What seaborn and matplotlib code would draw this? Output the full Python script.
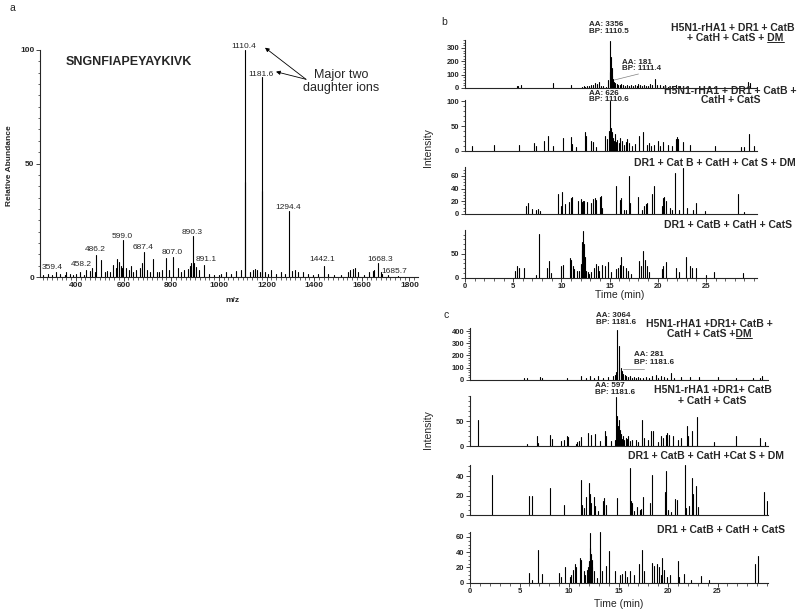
import numpy as np
import pandas as pd
import seaborn as sns
import matplotlib.pyplot as plt
from matplotlib.ticker import MultipleLocator, FixedLocator
from matplotlib.lines import Line2D

W, H = 800, 614

# ---- panel a: MS/MS spectrum of SNGNFIAPEYAYKIVK ----
ms_mz = [262, 282, 300, 317, 334, 352, 359.4, 373, 387, 401, 418, 432, 443, 458.2, 468, 478,
         486.2, 506, 520, 531, 541, 555, 566, 573, 580, 587, 594, 599.0, 611, 622, 633, 641,
         653, 667, 678, 687.4, 700, 711, 725, 739, 750, 762, 778, 792, 807.0, 827, 841, 855,
         869, 879, 884, 890.3, 891.1, 896, 904, 915, 939, 960, 981, 1002, 1010, 1031, 1052,
         1073, 1091, 1110.4, 1111.5, 1129, 1143, 1153, 1161, 1171, 1181.6, 1182.7, 1192,
         1206, 1220, 1241, 1262, 1276, 1294.4, 1306, 1318, 1332, 1353, 1374, 1395, 1416,
         1442.1, 1457, 1485, 1513, 1541, 1552, 1562, 1572, 1583, 1611, 1632, 1646, 1653,
         1668.3, 1681, 1685.7, 1709, 1751]
ms_ab = [1, 1.5, 1, 2, 1.5, 1, 2, 1.5, 1, 1.5, 2, 1, 3, 2.5, 3.8, 2,
         9.5, 7.5, 2, 2.5, 2, 5.5, 4, 7.8, 6.5, 5, 4, 16.5, 4, 3, 5, 2,
         3, 4, 6, 11, 3, 2, 8, 2, 2, 3, 8.3, 3, 8.7, 4, 2, 3,
         3.5, 5, 6, 18, 5, 6, 4.5, 3, 5.5, 1.5, 1, 1, 1.5, 2, 1.5,
         2.5, 3, 100, 42, 2, 3, 3.5, 3, 2, 88, 38, 2,
         1.5, 3, 1.5, 2, 1.5, 29, 2.5, 3, 2, 2, 1.5, 1, 1.5,
         5, 1.5, 1, 1, 2, 3, 3.5, 4, 2, 1, 2, 2.5, 3,
         6, 2, 1.5, 1, 0.5]
ms_labels = ["359.4", "458.2", "486.2", "599.0", "687.4", "807.0", "890.3", "891.1",
             "1110.4", "1181.6", "1294.4", "1442.1", "1668.3", "1685.7"]
ms_label_xy = [(301, 4.4), (424, 5.3), (483, 11.9), (593, 17.7), (683, 12.8), (805, 10.6),
               (886, 19.8), (946, 7.9), (1106, 101.5), (1176, 89), (1292, 30.4),
               (1433, 7.5), (1677, 7.9), (1737, 2.3)]

# ---- panel b: chromatograms, 1110 ion (time min, intensity) ----
b1_t = [5.37, 5.5, 5.8, 9.16, 10.99, 12.1, 12.3, 12.5, 12.7, 12.9, 13.1, 13.3, 13.5, 13.7, 13.9,
        14.1, 14.3, 14.6, 14.85, 15.0, 15.08, 15.15, 15.22, 15.3, 15.4, 15.5, 15.6, 15.75, 15.9,
        16.05, 16.2, 16.4, 16.6, 16.8, 17.0, 17.2, 17.4, 17.6, 17.8, 18.0, 18.2, 18.4, 18.6,
        18.8, 19.0, 19.2, 19.4, 19.7, 19.9, 20.2, 20.5, 20.8, 21.1, 21.5, 21.9, 22.3, 23.1,
        29.4, 29.6]
b1_i = [18, 14, 22, 38, 25, 10, 18, 8, 15, 12, 25, 20, 38, 30, 45,
        18, 12, 8, 60, 120, 350, 230, 150, 90, 70, 45, 35, 30, 25,
        20, 28, 22, 18, 25, 15, 20, 12, 25, 18, 30, 22, 15, 25,
        12, 18, 30, 20, 70, 25, 20, 15, 22, 10, 18, 25, 12, 10,
        45, 35]
b2_t = [0.72, 3.03, 5.6, 7.16, 7.37, 8.23, 8.64, 9.09, 10.12, 11.05, 11.15, 11.5, 12.43, 12.6,
        13.12, 13.3, 13.6, 14.5, 14.75, 14.9, 15.01, 15.1, 15.18, 15.27, 15.35, 15.45, 15.6,
        15.7, 15.8, 15.95, 16.1, 16.3, 16.5, 16.7, 16.85, 17.0, 17.3, 17.6, 18.1, 18.46, 18.9,
        19.1, 19.3, 19.6, 20.0, 20.2, 20.55, 21.1, 21.5, 21.85, 22.0, 22.15, 22.6, 23.3, 25.9,
        28.6, 28.9, 29.5, 30.0]
b2_i = [10, 12, 11, 15, 10, 20, 30, 10, 26, 27, 13, 7, 37, 30,
        20, 17, 7, 30, 24, 40, 100, 47, 30, 37, 25, 20, 34,
        18, 22, 15, 25, 20, 12, 18, 24, 15, 10, 14, 30, 37, 12,
        15, 10, 12, 20, 10, 17, 12, 10, 24, 27, 24, 17, 12, 10,
        7, 8, 34, 10]
b3_t = [6.3, 6.51, 7.0, 7.37, 7.6, 7.75, 9.68, 9.95, 10.1, 10.4, 10.8, 11.0, 11.1, 11.7, 12.0,
        12.15, 12.25, 12.4, 12.7, 13.1, 13.3, 13.45, 13.6, 14.0, 14.1, 14.25, 15.63, 16.05, 16.2,
        16.5, 16.7, 17.05, 17.15, 17.9, 18.4, 18.6, 18.8, 18.9, 19.4, 19.6, 20.4, 20.5, 20.7,
        20.9, 21.3, 21.45, 21.8, 22.2, 22.65, 23.0, 23.7, 24.0, 24.9, 28.3, 28.9]
b3_i = [12, 18, 8, 6, 8, 5, 31, 12, 35, 15, 19, 25, 27, 20, 24,
        19, 20, 21, 19, 17, 24, 25, 22, 26, 29, 10, 44, 22, 25,
        7, 7, 60, 17, 26, 7, 12, 15, 17, 32, 44, 12, 25, 27,
        20, 10, 7, 65, 6, 73, 10, 6, 17, 5, 31, 3]
b4_t = [5.2, 5.37, 5.58, 6.16, 7.37, 7.68, 8.54, 8.68, 8.9, 10.0, 10.2, 10.9, 11.05, 11.2, 11.35,
        11.6, 11.85, 12.0, 12.1, 12.18, 12.26, 12.34, 12.42, 12.6, 12.75, 12.9, 13.1, 13.4, 13.6,
        13.75, 13.9, 14.2, 14.5, 14.85, 15.2, 15.7, 15.85, 16.05, 16.2, 16.4, 16.7, 16.9, 17.25,
        18.1, 18.25, 18.5, 18.7, 18.85, 19.1, 20.4, 20.5, 20.9, 21.9, 22.2, 22.9, 23.3, 23.6,
        24.0, 25.0, 25.8, 28.8]
b4_i = [14, 25, 20, 21, 6, 91, 21, 34, 10, 25, 27, 41, 36, 25, 18,
        14, 15, 29, 57, 75, 97, 71, 43, 14, 11, 8, 12, 21, 29,
        25, 14, 27, 25, 32, 11, 18, 21, 27, 43, 25, 21, 14, 8,
        34, 25, 56, 36, 25, 11, 18, 25, 32, 21, 11, 43, 25, 21,
        20, 6, 11, 9]

# ---- panel c: chromatograms, 1181 ion ----
c1_t = [5.48, 5.75, 7.1, 7.3, 9.8, 11.2, 11.7, 12.1, 12.5, 12.9, 13.4, 13.9, 14.4, 14.6, 14.75,
        14.89, 15.0, 15.1, 15.22, 15.35, 15.5, 15.65, 15.8, 16.0, 16.2, 16.4, 16.6, 16.8, 17.0,
        17.2, 17.5, 17.8, 18.1, 18.4, 18.75, 19.0, 19.3, 19.6, 19.9, 20.3, 20.6, 21.3, 22.2,
        23.1, 25.1, 26.9, 28.6, 29.3, 29.5]
c1_i = [14, 16, 22, 12, 10, 33, 14, 33, 15, 33, 12, 22, 28, 40, 60,
        405, 276, 165, 97, 70, 45, 35, 28, 22, 30, 18, 25, 15, 22,
        12, 18, 20, 15, 28, 41, 15, 33, 25, 15, 55, 18, 22, 22,
        20, 22, 15, 16, 12, 28]
c2_t = [0.84, 5.8, 6.76, 6.9, 8.1, 8.25, 9.2, 9.5, 9.78, 9.9, 10.7, 10.85, 11.0, 11.26, 11.9,
        12.2, 12.6, 13.1, 13.6, 13.75, 14.2, 14.6, 14.79, 14.88, 14.98, 15.08, 15.18, 15.3, 15.4,
        15.5, 15.6, 15.75, 15.9, 16.0, 16.2, 16.4, 16.75, 17.0, 17.4, 17.55, 18.0, 18.3, 18.45,
        19.0, 19.3, 19.5, 19.75, 19.9, 20.1, 20.5, 21.0, 21.3, 21.9, 22.05, 22.4, 22.9, 24.6,
        26.9, 29.3, 29.8]
c2_i = [52, 5, 20, 7, 23, 15, 10, 12, 20, 18, 5, 8, 10, 19, 27,
        23, 25, 10, 30, 20, 10, 13, 99, 60, 40, 53, 33, 24, 15,
        20, 12, 17, 14, 20, 10, 13, 13, 8, 53, 17, 12, 30, 30,
        8, 20, 17, 23, 27, 23, 20, 12, 17, 40, 20, 30, 59, 8,
        20, 17, 8]
c3_t = [2.22, 6.0, 6.25, 8.1, 9.5, 11.19, 11.35, 11.5, 11.7, 11.99, 12.1, 12.25, 12.5, 12.65,
        12.9, 13.4, 13.5, 13.75, 14.8, 16.13, 16.28, 16.38, 16.6, 16.9, 17.15, 17.3, 17.5, 18.2,
        18.38, 19.65, 19.8, 19.95, 20.3, 20.7, 20.9, 21.67, 21.85, 22.1, 22.4, 22.55, 22.85,
        23.0, 29.7, 30.0]
c3_i = [41, 20, 20, 28, 10, 36, 10, 7, 19, 33, 22, 12, 19, 9,
        4, 14, 17, 10, 17, 48, 14, 12, 4, 8, 5, 6, 19, 12,
        41, 24, 45, 5, 3, 16, 15, 51, 7, 9, 38, 22, 30,
        8, 24, 14]
c4_t = [6.0, 6.25, 6.86, 7.3, 9.0, 9.15, 9.6, 10.1, 10.25, 10.45, 10.6, 10.75, 11.1, 11.25, 11.5,
        11.65, 11.8, 11.9, 11.99, 12.05, 12.1, 12.15, 12.2, 12.28, 12.35, 12.5, 12.8, 13.14, 13.3,
        13.7, 14.0, 14.6, 15.2, 15.4, 15.7, 15.9, 16.2, 16.55, 17.05, 17.4, 17.6, 18.4, 18.55,
        18.85, 19.05, 19.25, 19.4, 19.55, 19.9, 20.2, 21.0, 21.15, 21.65, 22.3, 23.35, 24.1,
        28.8, 29.1]
c4_i = [13, 3, 43, 12, 13, 8, 20, 8, 10, 17, 24, 20, 33, 30, 15,
        10, 17, 20, 24, 28, 65, 45, 37, 30, 20, 15, 6, 66, 15,
        22, 41, 15, 10, 12, 16, 8, 15, 10, 24, 43, 15, 26, 22,
        25, 20, 10, 33, 17, 8, 10, 28, 8, 11, 4, 9, 4,
        24, 35]

plt.rcParams["figure.dpi"] = 100
sns.set_style("ticks")
plt.rcParams["font.family"] = ["Liberation Sans", "DejaVu Sans"]

fig = plt.figure(figsize=(W / 100, H / 100), dpi=100)


def rect(left, right, top, bottom):
    return [left / W, 1 - bottom / H, (right - left) / W, (bottom - top) / H]


def ftext(px, py, s, **kw):
    kw.setdefault("va", "center")
    return fig.text(px / W, 1 - py / H, s, **kw)


def sticks(ax, xs, hs, lw=0.8):
    n = len(xs)
    df = pd.DataFrame({
        "x": np.repeat(xs, 2),
        "y": np.column_stack([np.zeros(n), hs]).ravel(),
        "pk": np.repeat(np.arange(n), 2),
    })
    sns.lineplot(data=df, x="x", y="y", units="pk", estimator=None, sort=False,
                 color="black", lw=lw, ax=ax, legend=False)
    ax.set_xlabel("")
    ax.set_ylabel("")


def style(ax, xlim, ylim, yticks, yminor, bottom_ticks, xsize=5.5, ysize=5.5):
    sns.despine(ax=ax)
    for s in ("left", "bottom"):
        ax.spines[s].set_linewidth(0.8)
    ax.set_xlim(xlim)
    ax.set_ylim(ylim)
    ax.yaxis.set_major_locator(FixedLocator(yticks))
    ax.yaxis.set_minor_locator(MultipleLocator(yminor))
    ax.tick_params(axis="y", which="major", length=3, width=0.6, labelsize=ysize, pad=1)
    ax.tick_params(axis="y", which="minor", length=1.8, width=0.5)
    if not bottom_ticks:
        ax.tick_params(axis="x", which="both", bottom=False, labelbottom=False)
    else:
        ax.tick_params(axis="x", which="major", length=3, width=0.6, labelsize=xsize, pad=0.5)
        ax.tick_params(axis="x", which="minor", length=1.8, width=0.5)
    plt.setp(ax.get_yticklabels(), fontweight="bold")
    plt.setp(ax.get_xticklabels(), fontweight="bold")


# ---------------- panel a ----------------
ax_a = fig.add_axes(rect(40, 418, 50, 277))
sticks(ax_a, ms_mz, ms_ab, lw=0.8)
style(ax_a, (249, 1836), (0, 100), [0, 50, 100], 5, True, xsize=6, ysize=6)
ax_a.xaxis.set_major_locator(FixedLocator(range(400, 1801, 200)))
ax_a.xaxis.set_minor_locator(MultipleLocator(20))
plt.setp(ax_a.get_xticklabels(), fontweight="bold")
for lab, (x, y) in zip(ms_labels, ms_label_xy):
    ax_a.text(x, y, lab, fontsize=6, ha="center", va="center")

ftext(10, 8, "a", fontsize=7.5)
ftext(129, 62, "SNGNFIAPEYAYKIVK", fontsize=9, fontweight="bold", ha="center")
ftext(341, 81.5, "Major two\ndaughter ions", fontsize=9, ha="center", linespacing=1.15)
for tip in [(265, 47.7), (276, 71.7)]:
    fig.add_artist(plt.Annotation("", xy=(tip[0] / W, 1 - tip[1] / H), xycoords="figure fraction",
                                  xytext=(306 / W, 1 - 79.3 / H), textcoords="figure fraction",
                                  arrowprops=dict(arrowstyle="-|>", lw=0.6, color="black",
                                                  mutation_scale=6, shrinkA=0, shrinkB=0)))
ftext(10, 166, "Relative Abundance", fontsize=6, fontweight="bold", rotation=90, ha="center")
ftext(232, 301, "m/z", fontsize=6, fontweight="bold", ha="center")

# ---------------- panel b ----------------
b_xlim = (0, 30.3)
b_axes = [fig.add_axes(rect(465, 757, 40, 88)),
          fig.add_axes(rect(465, 757, 100, 150.7)),
          fig.add_axes(rect(465, 757, 167, 214)),
          fig.add_axes(rect(465, 757, 230, 277.7))]
sticks(b_axes[0], b1_t, b1_i)
sticks(b_axes[1], b2_t, b2_i)
sticks(b_axes[2], b3_t, b3_i)
sticks(b_axes[3], b4_t, b4_i)
style(b_axes[0], b_xlim, (0, 360), [0, 100, 200, 300], 20, False)
style(b_axes[1], b_xlim, (0, 103), [0, 50, 100], 10, False)
style(b_axes[2], b_xlim, (0, 74), [0, 20, 40, 60], 5, False)
style(b_axes[3], b_xlim, (0, 99.5), [0, 50], 10, True)
b_axes[3].xaxis.set_major_locator(FixedLocator([0, 5, 10, 15, 20, 25]))
b_axes[3].xaxis.set_minor_locator(MultipleLocator(1))
plt.setp(b_axes[3].get_xticklabels(), fontweight="bold")
b_axes[0].plot([15.5, 18.0], [60, 105], color="gray", lw=0.5)

ftext(441, 21.7, "b", fontsize=7.5)
ftext(589, 25, "AA: 3356", fontsize=5.8, fontweight="bold")
ftext(589, 31.8, "BP: 1110.5", fontsize=5.8, fontweight="bold")
ftext(622, 62, "AA: 181", fontsize=5.8, fontweight="bold")
ftext(622, 68.8, "BP: 1111.4", fontsize=5.8, fontweight="bold")
ftext(589, 93.7, "AA: 626", fontsize=5.8, fontweight="bold")
ftext(589, 99.8, "BP: 1110.6", fontsize=5.8, fontweight="bold")

tkw = dict(fontsize=7.5, fontweight="bold", ha="center")
ftext(733, 28, "H5N1-rHA1 + DR1 + CatB", **tkw)
ul_b = ftext(735.5, 38, "+ CatH + CatS + DM", **tkw)
ftext(730, 90.7, "H5N1-rHA1 + DR1 + CatB +", **tkw)
ftext(731, 100.3, "CatH + CatS", **tkw)
ftext(715, 163, "DR1 + Cat B + CatH + Cat S + DM", **tkw)
ftext(728, 225, "DR1 + CatB + CatH + CatS", **tkw)
ftext(428, 148, "Intensity", fontsize=7.5, rotation=90, ha="center")
ftext(620, 295, "Time (min)", fontsize=7.5, ha="center")

# ---------------- panel c ----------------
c_xlim = (0, 30.1)
c_axes = [fig.add_axes(rect(470, 768, 328, 379.7)),
          fig.add_axes(rect(470, 768, 396, 446.3)),
          fig.add_axes(rect(470, 768, 465, 515)),
          fig.add_axes(rect(470, 768, 532, 582.7))]
sticks(c_axes[0], c1_t, c1_i)
sticks(c_axes[1], c2_t, c2_i)
sticks(c_axes[2], c3_t, c3_i)
sticks(c_axes[3], c4_t, c4_i)
style(c_axes[0], c_xlim, (0, 425), [0, 100, 200, 300, 400], 20, False)
style(c_axes[1], c_xlim, (0, 100), [0, 50], 10, False)
style(c_axes[2], c_xlim, (0, 51.5), [0, 20, 40], 5, False)
style(c_axes[3], c_xlim, (0, 66.5), [0, 20, 40, 60], 5, True)
c_axes[3].xaxis.set_major_locator(FixedLocator([0, 5, 10, 15, 20, 25]))
c_axes[3].xaxis.set_minor_locator(MultipleLocator(1))
plt.setp(c_axes[3].get_xticklabels(), fontweight="bold")
c_axes[0].plot([15.5, 17.6], [90, 90], color="gray", lw=0.5)

ftext(443, 315, "c", fontsize=7.5)
ftext(596, 315.7, "AA: 3064", fontsize=5.8, fontweight="bold")
ftext(596, 322, "BP: 1181.6", fontsize=5.8, fontweight="bold")
ftext(634, 355, "AA: 281", fontsize=5.8, fontweight="bold")
ftext(634, 362, "BP: 1181.6", fontsize=5.8, fontweight="bold")
ftext(595, 385.7, "AA: 597", fontsize=5.8, fontweight="bold")
ftext(595, 393, "BP: 1181.6", fontsize=5.8, fontweight="bold")

ftext(709, 324, "H5N1-rHA1 +DR1+ CatB +", **tkw)
ul_c = ftext(709.5, 334.3, "CatH + CatS +DM", **tkw)
ftext(712.5, 390, "H5N1-rHA1 +DR1+ CatB", **tkw)
ftext(712.5, 400.7, "+ CatH + CatS", **tkw)
ftext(705.5, 456, "DR1 + CatB + CatH +Cat S + DM", **tkw)
ftext(721, 530, "DR1 + CatB + CatH + CatS", **tkw)
ftext(428, 430, "Intensity", fontsize=7.5, rotation=90, ha="center")
ftext(619, 604, "Time (min)", fontsize=7.5, ha="center")

# underline the trailing "DM"
fig.canvas.draw()
r = fig.canvas.get_renderer()
probe = fig.text(0, 0, "DM", fontsize=7.5, fontweight="bold")
dm_w = probe.get_window_extent(r).width
probe.remove()
for t in (ul_b, ul_c):
    bb = t.get_window_extent(r)
    y = bb.y0 + 1
    fig.add_artist(Line2D([(bb.x1 - dm_w) / W, bb.x1 / W], [y / H, y / H],
                          color="black", lw=0.6))

fig.savefig("out.png", dpi=100)
